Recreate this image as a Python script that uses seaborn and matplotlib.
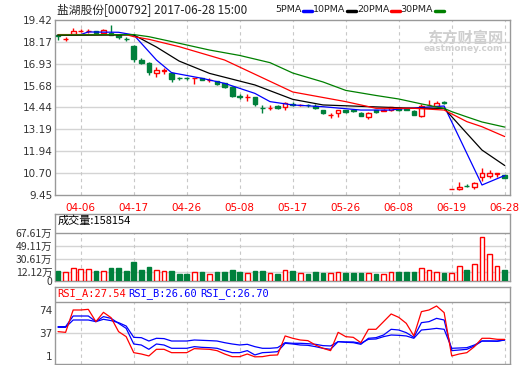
import matplotlib
matplotlib.use("Agg")
import matplotlib.pyplot as plt
from matplotlib.lines import Line2D
import seaborn as sns
import pandas as pd

# trading days 2017-03-30 .. 2017-06-28
dates = ["03-30", "03-31", "04-05", "04-06", "04-07", "04-10", "04-11", "04-12", "04-13", "04-14",
         "04-17", "04-18", "04-19", "04-20", "04-21", "04-24", "04-25", "04-26", "04-27", "04-28",
         "05-02", "05-03", "05-04", "05-05", "05-08", "05-09", "05-10", "05-11", "05-12", "05-15",
         "05-16", "05-17", "05-18", "05-19", "05-22", "05-23", "05-24", "05-25", "05-26", "05-31",
         "06-01", "06-02", "06-05", "06-06", "06-07", "06-08", "06-09", "06-12", "06-13", "06-14",
         "06-15", "06-16", "06-19", "06-20", "06-21", "06-22", "06-23", "06-26", "06-27", "06-28"]

opens = [18.56, 18.31, 18.62, 18.80, 18.78, 18.79, 18.70, 18.66, 18.57, 18.36,
         17.94, 17.14, 16.99, 16.38, 16.51, 16.42, 16.12, 16.12, 16.09, 16.10,
         15.98, 15.94, 15.81, 15.62, 15.07, 15.01, 15.02, 14.42, 14.40, 14.52,
         14.45, 14.64, 14.56, 14.60, 14.52, 14.29, 13.98, 14.12, 14.29, 14.27,
         14.14, 13.88, 14.27, 14.26, 14.30, 14.40, 14.36, 14.25, 13.95, 14.57,
         14.52, 14.72, 9.78, 9.79, 9.97, 9.92, 10.46, 10.55, 10.66, 10.57]
closes = [18.50, 18.33, 18.79, 18.82, 18.80, 18.66, 18.85, 18.58, 18.43, 18.33,
          17.18, 16.99, 16.44, 16.57, 16.56, 16.08, 16.09, 16.09, 16.11, 16.02,
          16.01, 15.77, 15.62, 15.11, 15.04, 15.03, 14.63, 14.39, 14.43, 14.40,
          14.67, 14.60, 14.60, 14.55, 14.42, 14.15, 14.01, 14.28, 14.17, 14.22,
          13.96, 14.14, 14.20, 14.30, 14.44, 14.30, 14.32, 14.00, 14.54, 14.60,
          14.71, 14.69, 9.80, 9.92, 9.95, 10.15, 10.72, 10.72, 10.69, 10.43]
highs = [18.60, 18.43, 18.95, 18.90, 18.88, 18.82, 18.88, 19.14, 18.60, 18.45,
         17.98, 17.24, 17.02, 16.74, 16.70, 16.45, 16.18, 16.16, 16.12, 16.14,
         16.10, 15.97, 15.83, 15.64, 15.22, 15.19, 15.04, 14.58, 14.58, 14.55,
         14.74, 14.72, 14.65, 14.64, 14.66, 14.31, 14.12, 14.31, 14.32, 14.30,
         14.18, 14.16, 14.30, 14.35, 14.48, 14.44, 14.40, 14.28, 14.66, 14.86,
         14.80, 14.83, 9.81, 10.17, 10.05, 10.18, 10.97, 10.86, 10.70, 10.60]
lows = [18.28, 18.20, 18.60, 18.72, 18.70, 18.62, 18.66, 18.55, 18.36, 18.22,
        17.04, 16.90, 16.29, 16.15, 16.35, 15.90, 16.00, 16.02, 15.77, 15.98,
        15.86, 15.74, 15.55, 15.02, 14.92, 14.83, 14.52, 14.15, 14.29, 14.35,
        14.29, 14.52, 14.50, 14.48, 14.36, 14.06, 13.82, 13.88, 14.14, 14.18,
        13.93, 13.80, 14.15, 14.22, 14.25, 14.26, 14.28, 13.98, 13.92, 14.55,
        14.46, 14.62, 9.77, 9.76, 9.88, 9.80, 10.25, 10.40, 10.46, 10.40]

# volume, unit: 10k lots
volumes = [14.2, 12.8, 18.0, 17.1, 17.1, 14.2, 14.2, 18.5, 18.5, 14.2,
           27.0, 15.7, 19.9, 15.2, 13.8, 13.3, 10.0, 10.0, 12.8, 11.9,
           9.5, 11.9, 11.9, 15.7, 11.9, 11.4, 13.3, 14.2, 11.4, 10.0,
           15.2, 14.2, 11.4, 10.0, 12.8, 11.4, 10.9, 12.8, 11.4, 11.4,
           11.4, 11.4, 10.4, 10.0, 12.8, 11.9, 11.9, 11.9, 18.0, 15.2,
           12.8, 11.4, 11.4, 20.9, 15.6, 24.2, 60.8, 37.0, 20.5, 15.8]

# moving averages read at sample days
ma5_idx = [0, 3, 4, 8, 10, 13, 15, 19, 22, 26, 28, 31, 35, 40, 44, 45, 51, 56, 59]
ma5_val = [18.57, 18.59, 18.74, 18.72, 18.57, 17.14, 16.42, 16.10, 15.81, 15.24,
           14.77, 14.58, 14.48, 14.29, 14.29, 14.35, 14.52, 10.02, 10.56]
ma10_idx = [0, 10, 13, 16, 20, 26, 31, 35, 47, 51, 54, 56, 59]
ma10_val = [18.54, 18.57, 17.88, 17.08, 16.38, 15.72, 14.90, 14.58, 14.39, 14.39,
            12.96, 12.01, 11.13]
ma20_idx = [0, 9, 10, 12, 16, 22, 31, 38, 42, 47, 51, 54, 56, 59]
ma20_val = [18.59, 18.59, 18.47, 18.32, 17.90, 17.14, 15.32, 14.77, 14.39, 14.39,
            14.29, 13.63, 13.34, 12.78]
ma30_idx = [0, 10, 12, 15, 20, 24, 28, 31, 35, 38, 42, 45, 48, 51, 52, 54, 56, 59]
ma30_val = [18.57, 18.59, 18.47, 18.19, 17.71, 17.40, 16.99, 16.40, 15.89, 15.41,
            15.12, 14.92, 14.64, 14.38, 14.20, 13.90, 13.61, 13.32]

rsi_a = [39.8, 38.7, 74.0, 74.0, 75.0, 55.6, 70.3, 61.9, 39.8, 31.9,
         6.6, 4.5, 1.4, 11.9, 11.9, 6.6, 6.6, 6.6, 13.0, 12.4,
         11.9, 9.8, 4.5, 0.3, 0.3, 4.5, 0.0, 0.3, 2.4, 3.0,
         33.0, 29.3, 26.6, 25.6, 18.7, 13.5, 9.8, 38.7, 31.9, 30.8,
         22.4, 43.5, 43.5, 55.6, 67.7, 62.4, 52.9, 33.0, 71.4, 74.0,
         80.3, 69.8, 1.4, 4.5, 6.6, 16.1, 29.3, 29.3, 27.7, 27.54]
rsi_b = [47.7, 47.7, 64.5, 64.5, 64.5, 55.6, 63.5, 60.8, 52.9, 45.0,
         20.3, 18.7, 11.9, 20.3, 18.7, 13.5, 13.5, 13.5, 16.1, 15.0,
         14.5, 13.5, 9.8, 6.6, 6.6, 9.8, 3.0, 6.6, 7.2, 8.2,
         21.4, 20.3, 18.7, 18.2, 16.1, 13.5, 11.9, 24.0, 23.0, 22.4,
         19.8, 29.3, 30.3, 34.5, 43.5, 42.4, 38.2, 30.8, 54.0, 55.6,
         60.8, 58.2, 9.8, 10.8, 11.9, 17.2, 25.0, 25.0, 24.5, 26.60]
rsi_c = [46.6, 46.6, 58.2, 58.2, 58.2, 55.6, 59.3, 57.2, 54.0, 48.7,
         30.8, 30.3, 25.0, 29.3, 28.8, 25.0, 25.0, 25.0, 26.6, 26.1,
         25.6, 25.0, 22.4, 20.3, 18.7, 19.8, 16.1, 13.5, 13.5, 14.5,
         22.4, 21.4, 21.4, 20.8, 19.8, 17.7, 17.2, 24.0, 23.5, 23.5,
         21.4, 27.7, 28.2, 31.9, 34.5, 34.0, 33.0, 29.3, 42.4, 43.5,
         45.0, 43.5, 13.5, 14.0, 14.5, 18.7, 25.0, 25.0, 25.0, 26.70]

price_ticks = [19.42, 18.17, 16.93, 15.68, 14.44, 13.19, 11.94, 10.70, 9.45]
vol_ticks = [67.61, 49.11, 30.61, 12.12, 0]
vol_labels = ["67.61万", "49.11万", "30.61万", "12.12万", "0"]
rsi_ticks = [74, 37, 1]
date_ticks = [3, 10, 17, 24, 31, 38, 45, 52, 59]

RED = "#ff0000"
GREEN = "#00803c"
FRAME = "#999999"
GRID = "#d4d4d4"

sns.set_style("white")
plt.rcParams["font.family"] = ["DejaVu Sans", "Noto Sans CJK SC"]
CJK = ["Noto Sans CJK SC", "DejaVu Sans"]

W, H = 520, 365
fig = plt.figure(figsize=(W / 100, H / 100), dpi=100)


def box(l, t, r, b):
    return [l / W, 1 - b / H, (r - l) / W, (b - t) / H]


ax = fig.add_axes(box(55, 20, 510, 195))
axv = fig.add_axes(box(55, 214, 510, 281))
axr = fig.add_axes(box(55, 287, 510, 364))

xlim = (-0.4, 59.7)
n = len(dates)
idx = list(range(n))
up = [c >= o for o, c in zip(opens, closes)]
cols = [RED if u else GREEN for u in up]

for a in (ax, axv, axr):
    a.set_xlim(*xlim)
    for s in a.spines.values():
        s.set_color(FRAME)
        s.set_linewidth(1)
    a.tick_params(axis="both", length=0, pad=2, labelsize=7.5, labelcolor="#333333")

# ---- price panel
ax.set_ylim(9.45, 19.42)
for v in price_ticks[1:-1]:
    ax.axhline(v, color=GRID, lw=1, zorder=0)
for i in date_ticks:
    ax.axvline(i, color="#c8c8c8", lw=0.8, ls=(0, (3, 3)), zorder=0)

ax.vlines(idx, lows, highs, colors=cols, lw=1, zorder=2)
bottoms = [min(o, c) for o, c in zip(opens, closes)]
heights = [max(abs(c - o), 0.015) for o, c in zip(opens, closes)]
ax.bar(idx, heights, bottom=bottoms, width=0.62,
       color=["white" if u else GREEN for u in up], edgecolor=cols, lw=1, zorder=3)

for xs, ys, col in [(ma5_idx, ma5_val, "#0000ff"), (ma10_idx, ma10_val, "#000000"),
                    (ma20_idx, ma20_val, "#ff0000"), (ma30_idx, ma30_val, "#008000")]:
    sns.lineplot(x=xs, y=ys, ax=ax, color=col, lw=0.9, estimator=None, sort=False, zorder=4)

ax.set_yticks(price_ticks)
ax.set_yticklabels([f"{v:.2f}" for v in price_ticks])
ax.set_xticks(date_ticks)
ax.set_xticklabels([dates[i] for i in date_ticks], color=RED)
ax.tick_params(axis="x", pad=6, labelcolor=RED)
ax.set_xlabel("")
ax.set_ylabel("")

# watermark
ax.text(0.985, 0.90, "东方财富网", transform=ax.transAxes, ha="right", va="center",
        fontsize=11, fontweight="bold", color="#cfcfcf", family=CJK, zorder=1)
ax.text(0.985, 0.835, "eastmoney.com", transform=ax.transAxes, ha="right", va="center",
        fontsize=6.5, fontweight="bold", color="#cfcfcf", zorder=1)

# ---- volume panel
vtop = 67.61 * 67 / 48.5
axv.set_ylim(0, vtop)
axv.axhline(67.61, color=FRAME, lw=1)
for v in vol_ticks[1:-1]:
    axv.axhline(v, color=GRID, lw=1, zorder=0)
axv.vlines(date_ticks, 0, 67.61, colors="#c8c8c8", lw=0.8, linestyles=(0, (3, 3)), zorder=0)
axv.bar(idx, volumes, width=0.62, color=["white" if u else GREEN for u in up],
        edgecolor=cols, lw=1, zorder=3)
axv.set_yticks(vol_ticks)
axv.set_yticklabels(vol_labels, family=CJK)
axv.set_xticks([])
axv.text(0.006, (vtop - 8.6) / vtop, f"成交量:{158154}", transform=axv.transAxes,
         ha="left", va="center", fontsize=8, family=CJK, color="black")

# ---- RSI panel
r_lo, r_hi, r_sep = -11.3, 110.3, 87.2
axr.set_ylim(r_lo, r_hi)
axr.axhline(r_sep, color=FRAME, lw=1)
axr.axhline(37, color=GRID, lw=1, zorder=0)
axr.vlines(date_ticks, r_lo, r_sep, colors="#c8c8c8", lw=0.8, linestyles=(0, (3, 3)), zorder=0)
rsi = pd.DataFrame({"day": idx, "A": rsi_a, "B": rsi_b, "C": rsi_c})
sns.lineplot(data=rsi, x="day", y="C", ax=axr, color="#0000ff", lw=0.9)
sns.lineplot(data=rsi, x="day", y="B", ax=axr, color="#0000ff", lw=0.9)
sns.lineplot(data=rsi, x="day", y="A", ax=axr, color="#ff0000", lw=0.9)
axr.set_yticks(rsi_ticks)
axr.set_xticks([])
axr.set_xlabel("")
axr.set_ylabel("")
ty = (r_sep + r_hi) / 2 + 1
axr.text(0.004, ty, "RSI_A:27.54", ha="left", va="center", fontsize=7.5, color=RED,
         family="DejaVu Sans Mono", transform=axr.get_yaxis_transform())
axr.text(0.162, ty, "RSI_B:26.60", ha="left", va="center", fontsize=7.5, color="#0000ff",
         family="DejaVu Sans Mono", transform=axr.get_yaxis_transform())
axr.text(0.32, ty, "RSI_C:26.70", ha="left", va="center", fontsize=7.5, color="#0000ff",
         family="DejaVu Sans Mono", transform=axr.get_yaxis_transform())

# ---- title and MA legend
ty = 1 - 10 / H
fig.text(57 / W, ty, "盐湖股份[000792] 2017-06-28 15:00", ha="left", va="center",
         fontsize=8.5, family=CJK, color="#222222")
fig.canvas.draw()
renderer = fig.canvas.get_renderer()
for lx, lab, col in [(275, "5PMA", "#0000ff"), (313, "10PMA", "#000000"),
                     (357, "20PMA", "#ff0000"), (400, "30PMA", "#008000")]:
    t = fig.text(lx / W, ty, lab, ha="left", va="center", fontsize=6.8, color="#222222")
    ext = t.get_window_extent(renderer=renderer)
    x0 = ext.x1 + 2
    fig.add_artist(Line2D([x0 / W, (x0 + 9) / W], [ty - 1 / H, ty - 1 / H],
                          color=col, lw=2.5, transform=fig.transFigure))

fig.savefig("out.png", dpi=100)
